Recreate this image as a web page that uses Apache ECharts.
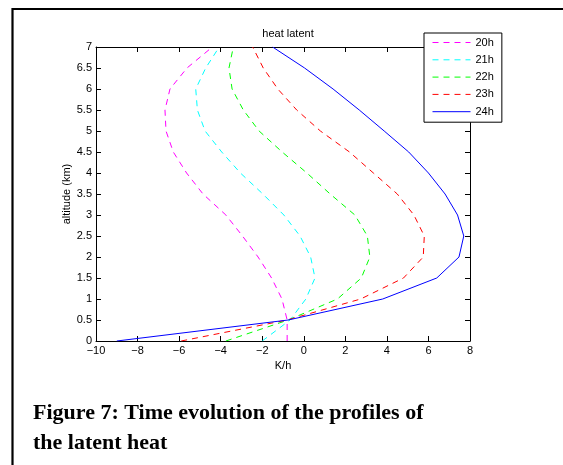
<!DOCTYPE html>
<html>
<head>
<meta charset="utf-8">
<script src="https://cdn.jsdelivr.net/npm/echarts@6/dist/echarts.min.js"></script>
<style>
  html, body { margin: 0; padding: 0; background: #fff; }
  #chart { width: 563px; height: 465px; }
</style>
</head>
<body>
<div id="chart"></div>
<script>
// altitude levels (km)
const altitude = [0, 0.5, 1, 1.5, 2, 2.5, 3, 3.5, 4, 4.5, 5, 5.5, 6, 6.5, 7]

// latent heat rate (K/h) at each altitude
const heat20h = [-0.8, -0.8, -1.05, -1.55, -2.2, -2.95, -3.75, -4.85, -5.64, -6.28, -6.63, -6.68, -6.44, -5.62, -4.4]
const heat21h = [-2.0, -0.66, 0.1, 0.54, 0.33, -0.18, -0.96, -1.97, -3.05, -3.95, -4.75, -5.12, -5.2, -4.72, -4.07]
const heat22h = [-3.75, -0.75, 1.62, 2.77, 3.18, 3.06, 2.46, 1.27, 0.15, -1.04, -2.15, -2.91, -3.45, -3.6, -3.39]
const heat23h = [-5.9, -0.8, 2.74, 4.8, 5.75, 5.8, 5.3, 4.5, 3.35, 2.2, 0.8, -0.34, -1.25, -1.95, -2.46]
const heat24h = [-9.0, -0.75, 3.8, 6.4, 7.47, 7.7, 7.4, 6.8, 6.0, 5.05, 3.87, 2.67, 1.41, 0.04, -1.5]

const seriesNames = ['20h', '21h', '22h', '23h', '24h']
const seriesColors = ['#ff00ff', '#00ffff', '#00ff00', '#ff0000', '#0000ff']
const seriesValues = [heat20h, heat21h, heat22h, heat23h, heat24h]

const xTicks = { min: -10, max: 8, interval: 2 }
const yTicks = { min: 0, max: 7, interval: 0.5 }

const fontFamily = 'Liberation Sans, Arial, sans-serif'

const myChart = echarts.init(document.getElementById('chart'), null, { renderer: 'canvas' })

const tickStyle = { inside: true, length: 5, lineStyle: { color: '#000', width: 1 } }
const lineStyle = { onZero: false, lineStyle: { color: '#000', width: 1 } }

const series = seriesNames.map((name, i) => ({
  name: name,
  type: 'line',
  showSymbol: false,
  symbol: 'none',
  animation: false,
  lineStyle: {
    color: seriesColors[i],
    width: 1,
    type: i < 4 ? [6, 5] : 'solid'
  },
  itemStyle: { color: seriesColors[i] },
  data: altitude.map((a, j) => [seriesValues[i][j], a])
}))

const option = {
  animation: false,
  backgroundColor: '#fff',
  title: {
    text: 'heat latent',
    left: 283,
    top: 23,
    textAlign: 'center',
    textStyle: { fontFamily: fontFamily, fontSize: 11, fontWeight: 'normal', color: '#000' }
  },
  legend: {
    orient: 'vertical',
    left: 424,
    top: 33,
    padding: [4, 8, 5, 8],
    itemWidth: 38,
    itemHeight: 10,
    itemGap: 6.3,
    borderColor: '#000',
    borderWidth: 1,
    backgroundColor: '#fff',
    itemStyle: { opacity: 0 },
    lineStyle: { width: 1 },
    textStyle: { fontFamily: fontFamily, fontSize: 11, color: '#000' },
    data: seriesNames
  },
  grid: { left: 96, top: 47, right: 93, bottom: 124 },
  xAxis: [
    {
      type: 'value',
      min: xTicks.min, max: xTicks.max, interval: xTicks.interval,
      name: 'K/h',
      nameLocation: 'middle',
      nameGap: 18,
      nameTextStyle: { fontFamily: fontFamily, fontSize: 11, color: '#000' },
      axisLine: lineStyle,
      axisTick: tickStyle,
      splitLine: { show: false },
      axisLabel: {
        margin: 4,
        fontFamily: fontFamily, fontSize: 11, color: '#000',
        formatter: v => (v < 0 ? '\u2212' + (-v) : String(v))
      }
    },
    {
      type: 'value', position: 'top',
      min: xTicks.min, max: xTicks.max, interval: xTicks.interval,
      axisLine: lineStyle, axisTick: tickStyle,
      splitLine: { show: false }, axisLabel: { show: false }
    }
  ],
  yAxis: [
    {
      type: 'value',
      min: yTicks.min, max: yTicks.max, interval: yTicks.interval,
      name: 'altitude (km)',
      nameLocation: 'middle',
      nameGap: 24,
      nameMoveOverlap: false,
      nameTextStyle: { fontFamily: fontFamily, fontSize: 11, color: '#000' },
      axisLine: lineStyle,
      axisTick: tickStyle,
      splitLine: { show: false },
      axisLabel: { margin: 4, fontFamily: fontFamily, fontSize: 11, color: '#000' }
    },
    {
      type: 'value', position: 'right',
      min: yTicks.min, max: yTicks.max, interval: yTicks.interval,
      axisLine: lineStyle, axisTick: tickStyle,
      splitLine: { show: false }, axisLabel: { show: false }
    }
  ],
  series: series,
  graphic: [
    {
      type: 'polyline',
      shape: { points: [[12.5, 465], [12.5, 9], [563, 9]] },
      style: { stroke: '#000', lineWidth: 2.2, fill: null },
      silent: true
    },
    {
      type: 'text',
      left: 33,
      top: 398,
      style: {
        text: 'Figure 7: Time evolution of the profiles of\nthe latent heat',
        font: 'bold 22px "Liberation Serif", "Times New Roman", serif',
        lineHeight: 30,
        fill: '#000'
      }
    }
  ]
}

myChart.setOption(option)
</script>
</body>
</html>
